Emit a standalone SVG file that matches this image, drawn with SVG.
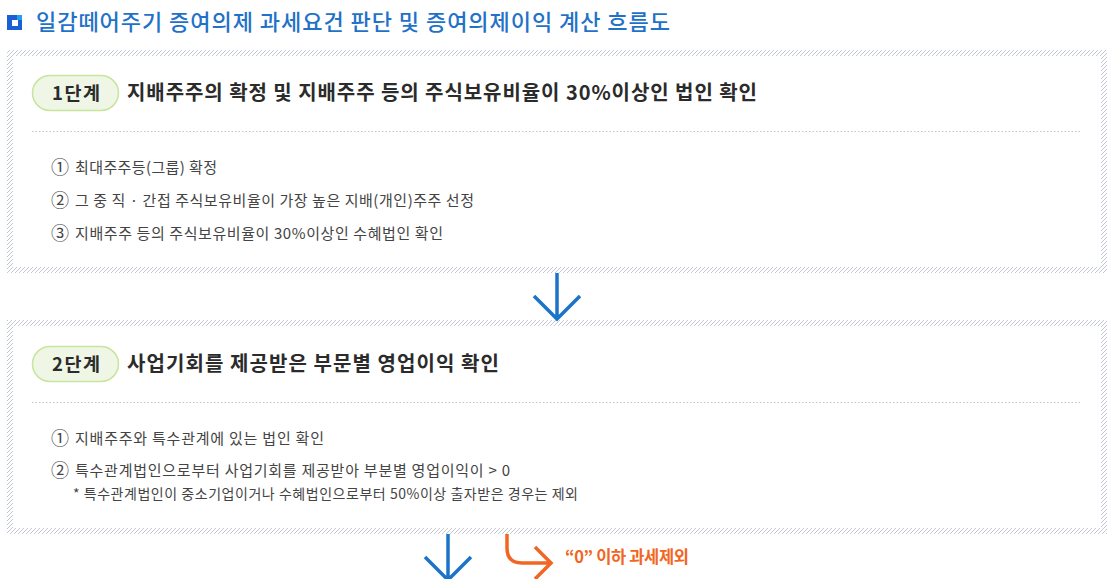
<svg xmlns="http://www.w3.org/2000/svg" width="1114" height="579" viewBox="0 0 1114 579">
<defs>
<pattern id="hatch" patternUnits="userSpaceOnUse" width="4" height="4">
<path d="M-1,1 L1,-1 M0,4 L4,0 M3,5 L5,3" stroke="#c3c7d4" stroke-width="1"/>
</pattern>
<style>
text{font-family:"Noto Sans CJK KR","Noto Sans",sans-serif;}
.title{font-size:22px;fill:#1f72c8;font-weight:500;}
.frame{fill:none;stroke:url(#hatch);stroke-width:6;}
.pill{fill:#eff6e6;stroke:#c7e59c;stroke-width:1.5;}
.pilltxt{font-size:18.5px;font-weight:bold;fill:#2b2b2b;}
.head{font-size:20px;font-weight:bold;fill:#2b2b2b;}
.dots{stroke:#c4c4c4;stroke-width:1;stroke-dasharray:1.5 2;}
.item{font-size:15px;fill:#444;}
.num{font-size:18px;}
.note{font-size:14px;fill:#444;}
.blue{fill:none;stroke:#1b74c9;stroke-width:3.5;}
.orange{fill:none;stroke:#f26522;stroke-width:3.5;}
.otxt{font-size:16.5px;font-weight:bold;fill:#f26522;}
</style>
</defs>
<rect width="1114" height="579" fill="#ffffff"/>
<g id="title">
<rect x="7" y="15" width="15" height="15" fill="#1a5fd4"/>
<rect x="17" y="15" width="5" height="5" fill="#22a0ee"/>
<rect x="12" y="20" width="6" height="6" fill="#ffffff"/>
<text class="title" x="36" y="30" textLength="634">일감떼어주기 증여의제 과세요건 판단 및 증여의제이익 계산 흐름도</text>
</g>
<g id="step1">
<rect class="frame" x="10" y="53" width="1094" height="217"/>
<rect class="pill" x="32.5" y="75.5" width="86" height="35" rx="17.5"/>
<text class="pilltxt" x="52" y="100" textLength="48">1단계</text>
<text class="head" x="127" y="100" textLength="630">지배주주의 확정 및 지배주주 등의 주식보유비율이 30%이상인 법인 확인</text>
<line class="dots" x1="32" y1="131.5" x2="1082" y2="131.5"/>
<text class="item" x="51" y="174"><tspan class="num">①</tspan></text>
<text class="item" x="75" y="173" textLength="142">최대주주등(그룹) 확정</text>
<text class="item" x="51" y="207"><tspan class="num">②</tspan></text>
<text class="item" x="75" y="206" textLength="399">그 중 직 · 간접 주식보유비율이 가장 높은 지배(개인)주주 선정</text>
<text class="item" x="51" y="240"><tspan class="num">③</tspan></text>
<text class="item" x="75" y="239" textLength="368">지배주주 등의 주식보유비율이 30%이상인 수혜법인 확인</text>
</g>
<g id="step2">
<rect class="frame" x="10" y="323" width="1094" height="208"/>
<rect class="pill" x="32.5" y="346.5" width="86" height="35" rx="17.5"/>
<text class="pilltxt" x="52" y="371" textLength="48">2단계</text>
<text class="head" x="127" y="371" textLength="372">사업기회를 제공받은 부문별 영업이익 확인</text>
<line class="dots" x1="32" y1="402.5" x2="1082" y2="402.5"/>
<text class="item" x="51" y="445"><tspan class="num">①</tspan></text>
<text class="item" x="75" y="444" textLength="249">지배주주와 특수관계에 있는 법인 확인</text>
<text class="item" x="51" y="477"><tspan class="num">②</tspan></text>
<text class="item" x="75" y="476" textLength="435">특수관계법인으로부터 사업기회를 제공받아 부분별 영업이익이 &gt; 0</text>
<text class="note" x="73" y="499" textLength="505">* 특수관계법인이 중소기업이거나 수혜법인으로부터 50%이상 출자받은 경우는 제외</text>
</g>
<g id="connectors">
<path class="blue" d="M557,273 V318 M534,296 L557,319 L580,296"/>
<path class="blue" d="M448,534 V580 M425,557 L448,580 L471,557"/>
<path class="orange" d="M507,534 V548 Q507,563 522,563 H551 M535,547 L551,563 L535,579"/>
</g>
<g id="exclude">
<text class="otxt" x="565" y="563" textLength="124">“0” 이하 과세제외</text>
</g>
</svg>
